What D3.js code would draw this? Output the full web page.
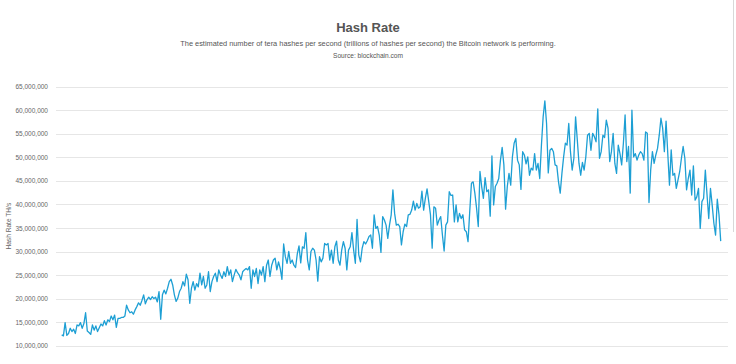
<!DOCTYPE html>
<html>
<head>
<meta charset="utf-8">
<script src="https://cdn.jsdelivr.net/npm/d3@7"></script>
<style>
  html, body { margin: 0; padding: 0; background: #fff; }
  svg { display: block; font-family: "Liberation Sans", Arial, Helvetica, sans-serif; }
  .grid line { stroke: #e6e6e6; shape-rendering: crispEdges; }
  .grid text { fill: #666; font-size: 6.5px; }
  .series { fill: none; stroke: #1d9fd4; stroke-width: 1.3px; stroke-linejoin: round; }
</style>
</head>
<body>
<svg id="chart"></svg>
<script>
// hash rate, in millions of TH/s, oldest first
var seg1 = [12.3,12.1,14.9,12.2,12.6,13.7,13.0,13.5,12.6,14.4,14.2,14.9,13.7,14.7,17.0,13.1,12.8,12.4,14.4,13.3,
  14.2,13.0,13.8,14.6,14.2,15.3,14.4,15.5,15.1,16.3,15.5,16.5,13.9,15.8,15.8,16.0,16.0,16.3,18.6,17.6,
  17.0,17.2,16.7,17.6,18.3,19.1,18.6,19.6,20.8,18.9,19.8,20.3,19.8,20.4,20.0,20.3,19.3,21.5];
var seg2 = [15.6,20.8,21.8,21.0,22.2,23.6,24.1,22.9,20.8,19.4,20.1,21.5,22.2,23.6,22.7,25.2,24.0,19.0,22.2,23.6,
  21.8,23.2,22.5,25.4,22.9,24.7,22.2,22.9,25.7,21.5,23.6,24.7,25.4,23.6,26.1,25.0,24.3,25.7,24.7,26.8,
  25.0,26.1,23.6,25.0,26.2,25.5,25.0,24.0,25.7,26.1,26.4,26.1,26.8,22.2,26.1,24.7,26.4,23.2,26.1,25.0,26.8,23.6];
var seg3 = [27.1,28.2,24.7,27.1,28.2,28.6,26.1,27.8,26.4,24.1,31.6,28.9,27.5,30.0,27.5,28.2,27.1,26.6,29.5,31.2,
  27.6,31.0,30.7,34.0,28.2,26.1,30.0,30.7,30.3,28.2,23.7,28.9,27.8,28.6,31.7,31.4,31.7,28.2,30.3,27.5,
  31.0,32.2,28.2,27.1,30.3,32.1,30.7,26.1,30.3,31.0,34.0,30.3,27.5,36.8,29.3,27.8,30.7,32.1,31.6,32.3,33.2,33.5,30.7,37.8];
var seg4 = [34.9,35.3,33.5,29.8,37.4,36.7,35.6,32.8,35.6,37.8,43.1,38.1,35.6,35.8,35.3,31.4,34.2,35.8,35.3,37.8,
  37.9,38.8,40.7,38.8,40.2,39.2,39.5,42.8,38.8,41.3,43.3,40.6,37.8,30.7,39.5,39.2,35.6,36.7,37.4,33.5,
  30.1,35.6,36.3,42.7,41.9,42.0,36.3,39.9,36.3,38.1,37.0,37.8,34.6,34.2,32.1,38.5,44.5,44.8,42.4,39.2,35.3,47.0];
var seg5 = [43.8,41.3,45.7,42.7,43.1,37.5,50.3,39.9,43.8,44.5,45.5,49.4,52.1,48.4,39.0,43.8,46.6,44.1,50.1,53.0,
  54.0,49.4,48.4,43.2,51.2,50.5,48.6,50.1,46.2,47.7,47.3,50.8,47.3,48.7,45.5,52.6,58.6,62.0,57.2,46.7,
  51.5,51.9,51.2,48.4,48.2,44.8,42.4,46.6,50.1,53.0,52.6,57.2,51.2,47.3,49.8,58.6,53.7,48.7,46.2,48.9,47.3,50.1,54.7,55.1,51.5];
var seg6 = [55.1,54.4,53.3,60.3,49.8,51.2,54.7,54.2,57.9,56.2,49.1,51.2,55.1,48.7,46.6,52.6,50.8,48.4,53.0,59.0,
  49.1,52.3,42.4,60.0,50.1,50.8,49.4,50.5,51.2,50.8,49.4,55.4,55.1,40.4,47.3,51.2,48.7,50.5,51.9,54.7,
  58.3,56.2,51.2,57.7,50.8,44.1,51.6,46.2,46.6,43.4,45.2,47.0,49.8,52.3,49.8,43.1,45.5,47.3,42.0,48.2,
  40.9,41.6,43.4,34.9,40.6,41.3,47.3,42.0,37.0,43.4,39.9,36.0,33.5,41.1,37.8,32.2];

var hashRate = seg1.concat(seg2, seg3, seg4, seg5, seg6).map(function (v) { return v * 1e6; });

var yTicks = [10e6, 15e6, 20e6, 25e6, 30e6, 35e6, 40e6, 45e6, 50e6, 55e6, 60e6, 65e6];

var title = "Hash Rate";
var subtitle = "The estimated number of tera hashes per second (trillions of hashes per second) the Bitcoin network is performing.";
var source = "Source: blockchain.com";
var yTitle = "Hash Rate TH/s";

var width = 736, height = 364;
var plot = { left: 56, right: 728, top: 86.7, bottom: 345.7 };

var svg = d3.select("#chart").attr("width", width).attr("height", height);

var x = d3.scaleLinear()
  .domain([0, hashRate.length - 1])
  .range([61.7, 720.7]);

var y = d3.scaleLinear()
  .domain([10e6, 65e6])
  .range([plot.bottom, plot.top]);

// titles
svg.append("text")
  .attr("x", 368).attr("y", 32)
  .attr("text-anchor", "middle")
  .style("font-size", "13px")
  .style("font-weight", "bold")
  .style("fill", "#555")
  .text(title);

svg.append("text")
  .attr("x", 368).attr("y", 46)
  .attr("text-anchor", "middle")
  .style("font-size", "7.4px")
  .style("fill", "#555")
  .text(subtitle);

svg.append("text")
  .attr("x", 368).attr("y", 57.5)
  .attr("text-anchor", "middle")
  .style("font-size", "6.6px")
  .style("fill", "#555")
  .text(source);

// grid + tick labels
var yAxis = d3.axisLeft(y)
  .tickValues(yTicks)
  .tickSize(-(plot.right - plot.left))
  .tickPadding(8)
  .tickFormat(d3.format(","));

svg.append("g")
  .attr("class", "grid")
  .attr("transform", "translate(" + plot.left + ",0)")
  .call(yAxis)
  .call(function (g) { g.select(".domain").remove(); });

svg.append("text")
  .attr("transform", "translate(11," + ((plot.top + plot.bottom) / 2 + 10) + ") rotate(-90)")
  .attr("text-anchor", "middle")
  .style("font-size", "6.6px")
  .style("fill", "#666")
  .text(yTitle);

var line = d3.line()
  .x(function (d, i) { return x(i); })
  .y(function (d) { return y(d); });

svg.append("path")
  .datum(hashRate)
  .attr("class", "series")
  .attr("d", line);

// faint scrollbar edge at the right of the page
svg.append("line")
  .attr("x1", 733.5).attr("x2", 733.5)
  .attr("y1", 0).attr("y2", 232)
  .attr("stroke", "#d8d8d8");
</script>
</body>
</html>
